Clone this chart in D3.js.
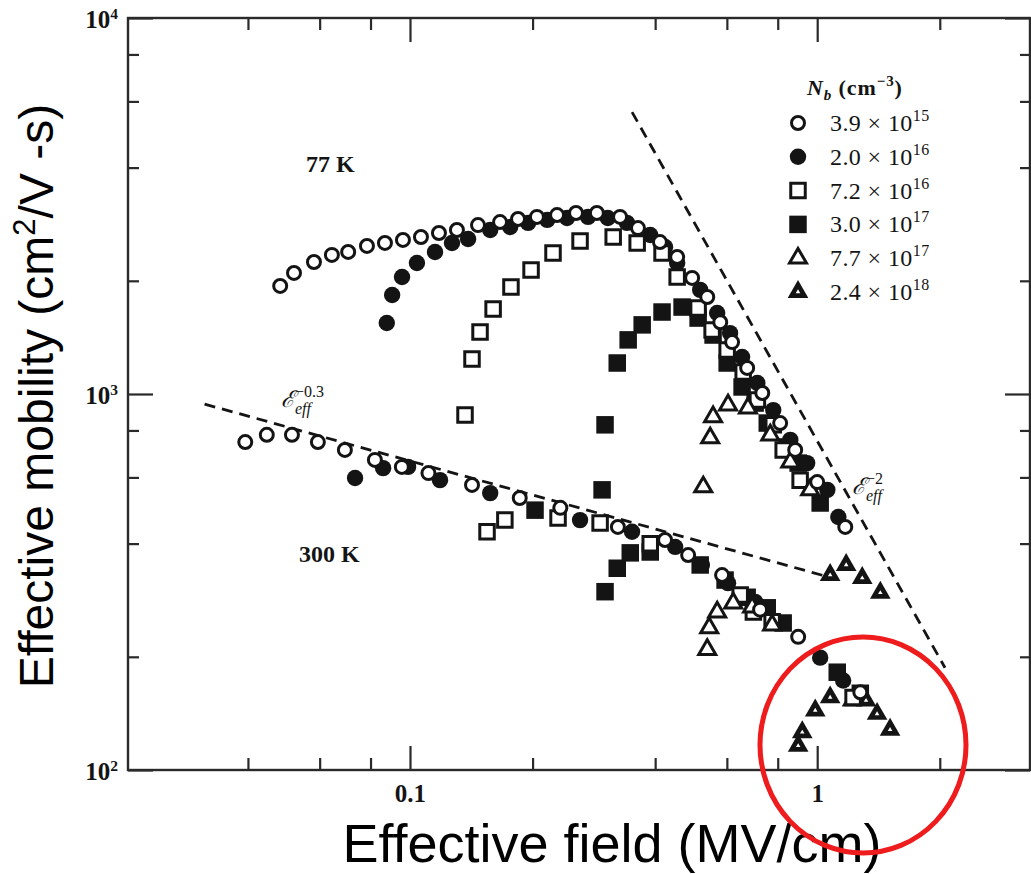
<!DOCTYPE html>
<html>
<head>
<meta charset="utf-8">
<script src="https://cdn.jsdelivr.net/npm/d3@7"></script>
<style>
  html, body { margin: 0; padding: 0; background: #fff; }
  svg { display: block; }
</style>
</head>
<body>
<svg id="chart" width="1031" height="874"></svg>
<script>
// ---------------- DATA (field in MV/cm, mobility in cm^2/V-s) ----------------
const legendMantissa = ["3.9", "2.0", "7.2", "3.0", "7.7", "2.4"];
const legendExponent = ["15", "16", "16", "17", "17", "18"];
const markerKinds = ["openCircle", "filledCircle", "openSquare", "filledSquare", "openTriangle", "filledTriangle"];

const openCircle77K = [[0.048,1938],[0.0519,2099],[0.0581,2244],[0.0643,2344],[0.0705,2387],[0.0784,2476],[0.0868,2522],[0.0961,2569],[0.1064,2616],[0.1178,2680],[0.1304,2730],[0.1469,2813],[0.1664,2866],[0.1842,2920],[0.205,2958],[0.2297,2992],[0.2557,3029],[0.2877,3029],[0.328,2958],[0.363,2762],[0.411,2536],[0.453,2314],[0.493,2036],[0.537,1811],[0.578,1552],[0.618,1374],[0.673,1173],[0.733,1006],[0.811,837],[0.883,710],[1.0,583],[1.172,443]];
const openCircle300K = [[0.0394,745],[0.0445,779],[0.0513,779],[0.0594,745],[0.0692,710],[0.082,668],[0.0955,640],[0.111,616],[0.142,573],[0.186,529],[0.234,498],[0.324,443],[0.423,409],[0.482,373],[0.584,330],[0.724,267],[0.898,226],[1.276,161]];

const filledCircle77K = [[0.0877,1545],[0.0904,1834],[0.0956,2048],[0.104,2230],[0.1152,2387],[0.1268,2522],[0.1389,2583],[0.1574,2730],[0.1762,2780],[0.195,2851],[0.2173,2904],[0.243,2938],[0.2737,2958],[0.306,2938],[0.341,2851],[0.389,2648],[0.423,2460],[0.453,2230],[0.516,1892],[0.568,1642],[0.611,1452],[0.654,1254],[0.713,1070],[0.78,906],[0.859,755],[0.945,655],[1.059,556],[1.127,471]];
const filledCircle300K = [[0.0733,598],[0.0859,635],[0.0989,640],[0.1185,590],[0.1574,545],[0.2616,462],[0.351,430],[0.448,392],[0.521,351],[0.604,314],[0.704,280],[1.017,199],[1.158,173]];

const openSquare77K = [[0.1365,879],[0.142,1239],[0.1486,1462],[0.16,1683],[0.177,1927],[0.1983,2138],[0.2245,2371],[0.2616,2553],[0.3155,2616],[0.3613,2522],[0.4159,2371],[0.453,2048],[0.51,1694],[0.552,1479],[0.601,1309],[0.658,1144],[0.713,964],[0.78,828],[0.825,710],[0.908,590]];
const openSquare300K = [[0.1546,430],[0.171,462],[0.231,468],[0.293,454],[0.389,400],[0.647,292],[0.697,263],[0.775,248],[1.225,156]];

const filledSquare77K = [[0.2963,556],[0.3013,828],[0.3228,1209],[0.3434,1393],[0.3717,1527],[0.4159,1652],[0.4658,1703],[0.51,1592],[0.555,1435],[0.601,1209],[0.654,1044],[0.704,946],[0.754,837],[0.844,723],[0.898,655],[1.017,513]];
const filledSquare300K = [[0.2028,491],[0.3013,298],[0.3228,344],[0.3475,378],[0.389,380],[0.516,351],[0.594,320],[0.673,288],[0.754,270],[0.825,246],[1.12,182],[1.276,160]];

const openTriangle77K = [[0.525,566],[0.546,764],[0.555,869],[0.604,935],[0.676,918],[0.767,778],[0.859,659],[0.961,556]];
const openTriangle300K = [[0.537,209],[0.543,239],[0.568,263],[0.622,278],[0.692,271],[0.775,243]];

const filledTriangle77K = [[1.076,330],[1.178,351],[1.29,324],[1.429,296]];
const filledTriangle300K = [[0.898,116],[0.919,126],[0.989,144],[1.076,156],[1.218,153],[1.318,153],[1.403,141],[1.51,128]];

// guide lines  (E_eff^-0.3 and E_eff^-2)
const guideLow = [[0.0313,940],[1.046,328]];
const guideHigh = [[0.351,5620],[2.06,187]];

const xMajorTicks = [0.1, 1];
const xMinorTicks = [0.04, 0.06, 0.08, 0.2, 0.4, 0.6, 0.8, 2];
const yMajorTicks = [100, 1000, 10000];
const yMinorTicks = [200, 400, 600, 800, 2000, 4000, 6000, 8000];

// ---------------- LAYOUT ----------------
const svg = d3.select("#chart");
const L = 128, R = 1030, T = 18, B = 770;
const x = d3.scaleLog().domain([0.0203, 3.35]).range([L, 1031]);
const y = d3.scaleLog().domain([100, 10000]).range([B, T]);
const serif = "'Liberation Serif','Times New Roman',serif";
const sans = "'Liberation Sans',Arial,sans-serif";
const ink = "#141414";

svg.append("rect").attr("width", 1031).attr("height", 874).attr("fill", "#fff");

// frame
svg.append("rect").attr("x", L).attr("y", T).attr("width", R - L).attr("height", B - T)
  .attr("fill", "none").attr("stroke", "#2a2a2a").attr("stroke-width", 2.4);

function styleAxis(g) {
  g.select(".domain").remove();
  g.selectAll(".tick line").attr("stroke", "#2a2a2a").attr("stroke-width", 2.2);
  g.selectAll(".tick text").attr("font-family", serif).attr("font-size", 25).attr("fill", ink).attr("font-weight", "bold");
}

// bottom
svg.append("g").attr("transform", `translate(0,${B})`)
  .call(d3.axisBottom(x).tickValues(xMajorTicks).tickSize(-24).tickSizeOuter(0).tickPadding(14)
    .tickFormat(d => d < 0.5 ? "0.1" : "1"))
  .call(styleAxis);
svg.append("g").attr("transform", `translate(0,${B})`)
  .call(d3.axisBottom(x).tickValues(xMinorTicks).tickSize(-12).tickSizeOuter(0).tickFormat(""))
  .call(styleAxis);
// top
svg.append("g").attr("transform", `translate(0,${T})`)
  .call(d3.axisTop(x).tickValues(xMajorTicks).tickSize(-24).tickSizeOuter(0).tickFormat(""))
  .call(styleAxis);
svg.append("g").attr("transform", `translate(0,${T})`)
  .call(d3.axisTop(x).tickValues(xMinorTicks).tickSize(-12).tickSizeOuter(0).tickFormat(""))
  .call(styleAxis);
// left
const yAxisG = svg.append("g").attr("transform", `translate(${L},0)`)
  .call(d3.axisLeft(y).tickValues(yMajorTicks).tickSize(-25).tickSizeOuter(0).tickPadding(10)
    .tickFormat(() => "10"))
  .call(styleAxis);
yAxisG.selectAll(".tick text").attr("dy", "0.38em")
  .append("tspan").attr("dy", "-0.55em").attr("font-size", "0.62em")
  .text(d => Math.round(Math.log10(d)));
svg.append("g").attr("transform", `translate(${L},0)`)
  .call(d3.axisLeft(y).tickValues(yMinorTicks).tickSize(-11).tickSizeOuter(0).tickFormat(""))
  .call(styleAxis);
// right
svg.append("g").attr("transform", `translate(${R},0)`)
  .call(d3.axisRight(y).tickValues(yMajorTicks).tickSize(-25).tickSizeOuter(0).tickFormat(""))
  .call(styleAxis);
svg.append("g").attr("transform", `translate(${R},0)`)
  .call(d3.axisRight(y).tickValues(yMinorTicks).tickSize(-10).tickSizeOuter(0).tickFormat(""))
  .call(styleAxis);

// guide lines
const line = d3.line().x(d => x(d[0])).y(d => y(d[1]));
[guideLow, guideHigh].forEach(g => {
  svg.append("path").attr("d", line(g)).attr("fill", "none")
    .attr("stroke", ink).attr("stroke-width", 2.8).attr("stroke-dasharray", "11,7");
});

// markers
const sym = {
  openCircle: { type: d3.symbolCircle, size: Math.PI * 6.5 * 6.5, fill: "#fff", sw: 3 },
  filledCircle: { type: d3.symbolCircle, size: Math.PI * 8.2 * 8.2, fill: ink, sw: 0 },
  openSquare: { type: d3.symbolSquare, size: 14.5 * 14.5, fill: "#fff", sw: 3 },
  filledSquare: { type: d3.symbolSquare, size: 17.5 * 17.5, fill: ink, sw: 0 },
  openTriangle: { type: d3.symbolTriangle, size: 125, fill: "#fff", sw: 3 },
  filledTriangle: { type: d3.symbolTriangle, size: 185, fill: ink, sw: 0, dot: true }
};
function drawMarker(sel, kind) {
  const s = sym[kind];
  sel.append("path")
    .attr("d", d3.symbol().type(s.type).size(s.size)())
    .attr("fill", s.fill).attr("stroke", ink).attr("stroke-width", s.sw);
  if (s.dot) {
    sel.append("path").attr("d", d3.symbol().type(d3.symbolTriangle).size(9)())
      .attr("fill", "#fff");
  }
}
function drawMarkers(data, kind) {
  svg.append("g").selectAll("g").data(data).join("g")
    .attr("transform", d => `translate(${x(d[0])},${y(d[1])})`)
    .each(function () { drawMarker(d3.select(this), kind); });
}
const drawOrder = [
  [filledSquare77K, "filledSquare"], [filledSquare300K, "filledSquare"],
  [filledCircle77K, "filledCircle"], [filledCircle300K, "filledCircle"],
  [filledTriangle77K, "filledTriangle"], [filledTriangle300K, "filledTriangle"],
  [openSquare77K, "openSquare"], [openSquare300K, "openSquare"],
  [openTriangle77K, "openTriangle"], [openTriangle300K, "openTriangle"],
  [openCircle77K, "openCircle"], [openCircle300K, "openCircle"]
];
drawOrder.forEach(([d, k]) => drawMarkers(d, k));

// text annotations
svg.append("text").attr("x", 306).attr("y", 172).attr("font-family", serif).attr("font-size", 24)
  .attr("font-weight", "bold").attr("fill", ink).text("77 K");
svg.append("text").attr("x", 299).attr("y", 562).attr("font-family", serif).attr("font-size", 24)
  .attr("font-weight", "bold").attr("fill", ink).text("300 K");

function fieldLabel(px, py, exp) {
  const t = svg.append("text").attr("x", px).attr("y", py).attr("font-family", serif)
    .attr("font-size", 23).attr("font-style", "italic").attr("fill", ink);
  t.append("tspan").text("ℰ");
  t.append("tspan").attr("font-size", 16).attr("dy", -10).attr("font-style", "normal").text(exp);
  t.append("tspan").attr("x", px + 14).attr("dy", 17).attr("font-size", 16).text("eff");
}
fieldLabel(281, 407, "−0.3");
fieldLabel(852, 494, "−2");

// legend
const lg = svg.append("g");
const lt = lg.append("text").attr("x", 807).attr("y", 95).attr("font-family", serif)
  .attr("font-size", 22).attr("font-weight", "bold").attr("fill", ink).attr("letter-spacing", 0.9);
lt.append("tspan").attr("font-style", "italic").text("N");
lt.append("tspan").attr("font-style", "italic").attr("font-size", 15).attr("dy", 5).text("b");
lt.append("tspan").attr("dy", -5).text(" (cm");
lt.append("tspan").attr("font-size", 15).attr("dy", -9).text("−3");
lt.append("tspan").attr("dy", 9).text(")");

legendMantissa.forEach((m, i) => {
  const cy = 123 + i * 33.8;
  const g = lg.append("g").attr("transform", `translate(798,${cy})`);
  drawMarker(g, markerKinds[i]);
  const t = lg.append("text").attr("x", 830).attr("y", cy + 8).attr("font-family", serif)
    .attr("font-size", 24).attr("fill", ink).attr("letter-spacing", 0.4);
  t.append("tspan").text(`${m} × 10`);
  t.append("tspan").attr("font-size", 16).attr("dy", -10).text(legendExponent[i]);
});

// axis titles
const yt = svg.append("text").attr("transform", "translate(53,396) rotate(-90)")
  .attr("text-anchor", "middle").attr("font-family", sans).attr("font-size", 48).attr("fill", "#000");
yt.append("tspan").text("Effective mobility (cm");
yt.append("tspan").attr("font-size", 31).attr("dy", -18).text("2");
yt.append("tspan").attr("dy", 18).text("/V -s)");

svg.append("text").attr("x", 612).attr("y", 862).attr("text-anchor", "middle")
  .attr("font-family", sans).attr("font-size", 54).attr("fill", "#000").text("Effective field (MV/cm)");

// red highlight circle
svg.append("ellipse").attr("cx", 863).attr("cy", 745).attr("rx", 103).attr("ry", 108)
  .attr("fill", "none").attr("stroke", "#ee1c1c").attr("stroke-width", 5);
</script>
</body>
</html>
